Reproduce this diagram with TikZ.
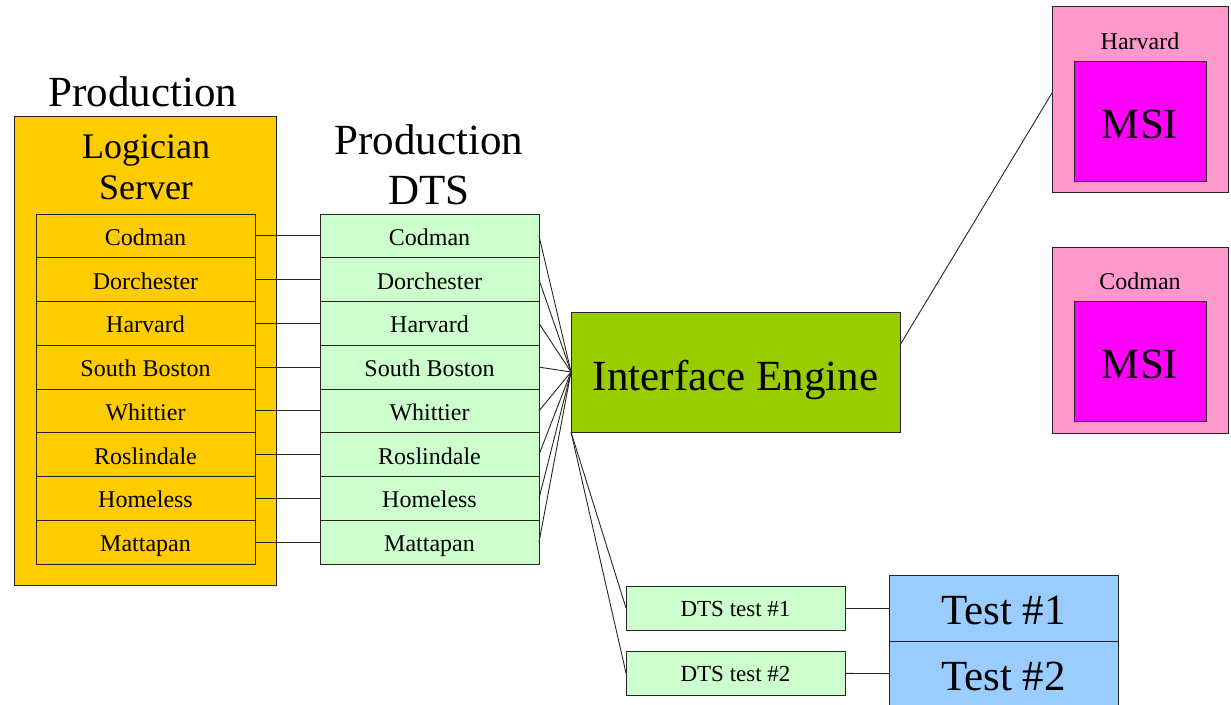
\documentclass[tikz,border=0pt]{standalone}
\usepackage{fontspec}
\setmainfont{Liberation Serif}
\usetikzlibrary{positioning,calc}
\definecolor{srvorange}{HTML}{FFCC00}
\definecolor{dtsgreen}{HTML}{CCFFCC}
\definecolor{enginegreen}{HTML}{99CC00}
\definecolor{sitepink}{HTML}{FF99CC}
\definecolor{msimagenta}{HTML}{FF00FF}
\definecolor{testblue}{HTML}{99CCFF}
\newcommand{\fsz}[1]{\fontsize{#1}{#1}\selectfont}

\begin{document}
\begin{tikzpicture}[x=1pt, y=-1pt,
        box/.style={draw=black!85, line width=1pt, inner sep=0pt, outer sep=0pt, align=center},
        row/.style={box, minimum width=219pt, minimum height=43.75pt, font=\fsz{24}, text height=22pt, text depth=3pt},
        big/.style={font=\fontsize{43}{50}\selectfont, align=center},
        link/.style={draw=black!85, line width=0.9pt}
    ]
        \useasboundingbox (0,0) rectangle (1231,704);

        % Logician server
        \node[box, fill=srvorange, minimum width=262pt, minimum height=469pt] (srv) at (145, 350.5) {};
        \node[big] (srvtitle) at (143, 92) {Production};
        \node[align=center, font=\fontsize{36}{41}\selectfont] (srvname) at (146, 167) {Logician\\Server};

        % Production DTS
        \node[big] (dtstitle) at (429, 165) {Production\\DTS};

        % Site rows
        \foreach \site [count=\i] in {Codman, Dorchester, Harvard, South Boston, Whittier, Roslindale, Homeless, Mattapan} {
            \node[row, fill=srvorange] (lsrv\i) at (145.5, {214 + 43.75*(\i - 0.5)}) {\site};
            \node[row, fill=dtsgreen] (dts\i) at (429.5, {214 + 43.75*(\i - 0.5)}) {\site};
        }

        % Interface engine
        \node[box, fill=enginegreen, minimum width=329pt, minimum height=120pt, big, text height=40pt, text depth=4pt] (eng) at (735.5, 372) {Interface Engine};

        % MSI sites
        \node[box, fill=sitepink, minimum width=176pt, minimum height=186pt] (harv) at (1140, 99) {};
        \node[box, fill=msimagenta, minimum width=132pt, minimum height=120pt, big, text height=34pt, text depth=0pt] (harvmsi) at (1140, 121) {MSI};
        \node[font=\fsz{24}] (harvlbl) at (1140, 41) {Harvard};
        \node[box, fill=sitepink, minimum width=176pt, minimum height=186pt] (cod) at (1140, 340) {};
        \node[box, fill=msimagenta, minimum width=132pt, minimum height=120pt, big, text height=34pt, text depth=0pt] (codmsi) at (1140, 361) {MSI};
        \node[font=\fsz{24}] (codlbl) at (1140, 281) {Codman};

        % Test systems
        \node[row, fill=dtsgreen, minimum height=44pt, font=\fsz{23}, text height=20pt, text depth=2.5pt] (dtst1) at (735.5, 608) {DTS test \#1};
        \node[row, fill=dtsgreen, minimum height=44pt, font=\fsz{23}, text height=20pt, text depth=2.5pt] (dtst2) at (735.5, 673) {DTS test \#2};
        \node[box, fill=testblue, minimum width=229pt, minimum height=66pt, big, text height=34pt, text depth=2pt] (test1) at (1003.5, 608) {Test \#1};
        \node[box, fill=testblue, minimum width=229pt, minimum height=66pt, big, text height=34pt, text depth=2pt] (test2) at (1003.5, 674) {Test \#2};

        % Links
        \foreach \i in {1,...,8} {
            \draw[link] (lsrv\i.east) -- (dts\i.west);
            \draw[link] (dts\i.east) -- (eng.west);
        }
        \draw[link] ($(eng.north east)!0.275!(eng.south east)$) -- ($(harv.west)+(0,-6)$);
        \draw[link] ($(eng.east)+(0,-6)$) -- ($(eng.east)+(0,-6)$ -| cod.west);
        \draw[link] (eng.south west) -- (dtst1.west);
        \draw[link] (eng.south west) -- (dtst2.west);
        \draw[link] (dtst1) -- (test1);
        \draw[link] (dtst2) -- (test2);
    \end{tikzpicture}
\end{document}
